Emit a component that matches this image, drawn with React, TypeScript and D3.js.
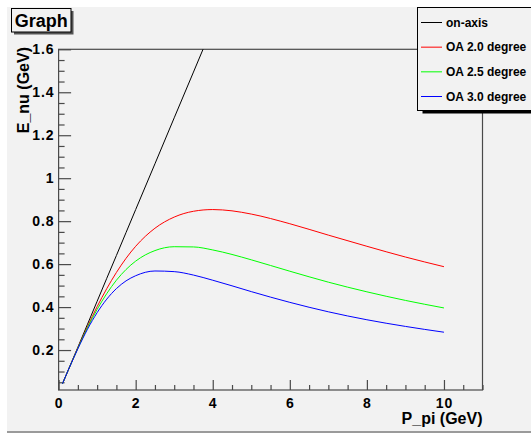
import React, { useEffect, useRef } from 'react';
import * as d3 from 'd3';

// values
const pPi = [0.1, 0.25, 0.5, 0.75, 1, 1.25, 1.5, 1.75, 2, 2.5, 3, 3.5, 4, 4.5, 5, 6, 7, 8, 9, 10];
const onAxis = [0.043, 0.107, 0.213, 0.320, 0.427, 0.534, 0.640, 0.747, 0.854, 1.067, 1.281, 1.494, 1.708, 1.921, 2.135, 2.561, 2.988, 3.415, 3.842, 4.269];
const oa20 = [0.043, 0.106, 0.210, 0.309, 0.402, 0.486, 0.561, 0.627, 0.683, 0.767, 0.819, 0.846, 0.854, 0.848, 0.833, 0.788, 0.735, 0.683, 0.633, 0.588];
const oa25 = [0.043, 0.106, 0.208, 0.304, 0.389, 0.463, 0.525, 0.575, 0.614, 0.663, 0.681, 0.680, 0.666, 0.645, 0.620, 0.567, 0.516, 0.471, 0.431, 0.396];
const oa30 = [0.043, 0.106, 0.206, 0.297, 0.374, 0.437, 0.486, 0.522, 0.546, 0.568, 0.565, 0.549, 0.525, 0.499, 0.472, 0.422, 0.378, 0.341, 0.310, 0.283];

const seriesNames = ['on-axis', 'OA 2.0 degree', 'OA 2.5 degree', 'OA 3.0 degree'];
const seriesColors = ['#000000', '#ff0000', '#00ff00', '#0000ff'];

const xTicks = [0, 2, 4, 6, 8, 10];
const yTicks = [0.2, 0.4, 0.6, 0.8, 1, 1.2, 1.4, 1.6];

const W = 531;
const H = 435;
const frame = { left: 58.6, right: 482.5, top: 49.3, bottom: 390 };
const font = '"Liberation Sans", Arial, Helvetica, sans-serif';
const bg = '#f2f2f2';
const axisColor = '#4a4a4a';

const draw = (svgEl: SVGSVGElement) => {
	const svg = d3.select(svgEl);
	svg.selectAll('*').remove();

	const x = d3.scaleLinear().domain([0, 11]).range([frame.left, frame.right]);
	const y = d3.scaleLinear().domain([0.014, 1.6]).range([frame.bottom, frame.top]);

	// page + canvas
	svg.append('rect').attr('width', W).attr('height', H).attr('fill', '#ffffff');
	svg.append('rect').attr('x', 7).attr('y', 7).attr('width', W).attr('height', 424).attr('fill', bg);
	svg.append('line').attr('x1', 7).attr('x2', W).attr('y1', 432).attr('y2', 432)
		.attr('stroke', '#9a9a9a').attr('stroke-width', 2);

	// clip for the curves
	svg.append('clipPath').attr('id', 'frameClip')
		.append('rect')
		.attr('x', frame.left).attr('y', frame.top)
		.attr('width', frame.right - frame.left).attr('height', frame.bottom - frame.top);

	const g = svg.append('g');

	// minor / major ticks, pointing into the frame
	const minorX = d3.range(0, 11.01, 0.5).filter((v) => v % 2 !== 0);
	const minorY = d3.range(0.05, 1.6, 0.05).filter((v) => Math.abs(v * 5 - Math.round(v * 5)) > 1e-6);

	const styleAxis = (sel: d3.Selection<SVGGElement, unknown, null, undefined>) => {
		sel.select('.domain').remove();
		sel.selectAll('line').attr('stroke', axisColor).attr('stroke-width', 1.2);
		sel.selectAll('text')
			.attr('font-family', font)
			.attr('font-weight', 'bold')
			.attr('font-size', 14)
			.attr('letter-spacing', 1)
			.attr('fill', '#000');
	};

	g.append('g').attr('transform', `translate(0,${ frame.bottom })`)
		.call(d3.axisBottom(x).tickValues(minorX).tickSize(-5).tickFormat(() => ''))
		.call(styleAxis);
	g.append('g').attr('transform', `translate(0,${ frame.bottom })`)
		.call(d3.axisBottom(x).tickValues(xTicks).tickSize(-10).tickPadding(8)
			.tickFormat((d) => String(d)))
		.call(styleAxis)
		.call((s) => s.selectAll('text').attr('dy', '0').attr('y', 18));

	g.append('g').attr('transform', `translate(${ frame.left },0)`)
		.call(d3.axisLeft(y).tickValues(minorY).tickSize(-6).tickFormat(() => ''))
		.call(styleAxis);
	g.append('g').attr('transform', `translate(${ frame.left },0)`)
		.call(d3.axisLeft(y).tickValues(yTicks).tickSize(-12.5).tickPadding(4)
			.tickFormat((d) => String(d)))
		.call(styleAxis);

	// frame
	g.append('rect')
		.attr('x', frame.left).attr('y', frame.top)
		.attr('width', frame.right - frame.left).attr('height', frame.bottom - frame.top)
		.attr('fill', 'none').attr('stroke', axisColor).attr('stroke-width', 1.2);

	// curves
	const series = [onAxis, oa20, oa25, oa30];
	const line = d3.line<number>()
		.x((_, i) => x(pPi[i]))
		.y((d) => y(d))
		.curve(d3.curveMonotoneX);
	const curves = g.append('g').attr('clip-path', 'url(#frameClip)');
	series.forEach((vals, i) => {
		curves.append('path')
			.attr('d', line(vals))
			.attr('fill', 'none')
			.attr('stroke', seriesColors[i])
			.attr('stroke-width', 1);
	});

	// axis titles
	svg.append('text')
		.attr('x', frame.right).attr('y', 424)
		.attr('text-anchor', 'end')
		.attr('font-family', font).attr('font-weight', 'bold').attr('font-size', 16)
		.text('P_pi (GeV)');
	svg.append('text')
		.attr('transform', `translate(29,47) rotate(-90)`)
		.attr('text-anchor', 'end')
		.attr('font-family', font).attr('font-weight', 'bold').attr('font-size', 16)
		.text('E_nu (GeV)');

	// title box
	svg.append('rect').attr('x', 14).attr('y', 11).attr('width', 59.5).attr('height', 23.5).attr('fill', '#555');
	svg.append('rect').attr('x', 11.5).attr('y', 8.5).attr('width', 59.5).attr('height', 23.5)
		.attr('fill', bg).attr('stroke', '#000').attr('stroke-width', 1);
	svg.append('text').attr('x', 41.2).attr('y', 27)
		.attr('text-anchor', 'middle')
		.attr('font-family', font).attr('font-weight', 'bold').attr('font-size', 18)
		.text('Graph');

	// legend
	const legend = svg.append('g');
	legend.append('rect').attr('x', 422.5).attr('y', 12).attr('width', 120).attr('height', 101.5).attr('fill', '#000');
	legend.append('rect').attr('x', 417.5).attr('y', 7.5).attr('width', 120).attr('height', 103)
		.attr('fill', bg).attr('stroke', '#000').attr('stroke-width', 1);
	const rowY = d3.scaleLinear().domain([0, seriesNames.length - 1]).range([22.5, 96.5]);
	seriesNames.forEach((name, i) => {
		legend.append('line')
			.attr('x1', 421).attr('x2', 442)
			.attr('y1', rowY(i)).attr('y2', rowY(i))
			.attr('stroke', seriesColors[i]).attr('stroke-width', 1);
		legend.append('text')
			.attr('x', 446).attr('y', rowY(i)).attr('dy', '0.36em')
			.attr('font-family', font).attr('font-weight', 'bold').attr('font-size', 12)
			.text(name);
	});
};

const App = () => {
	const ref = useRef<SVGSVGElement>(null);

	useEffect(() => {
		if (ref.current) draw(ref.current);
	}, []);

	return (
		<svg ref={ ref } width={ W } height={ H }
			style={ { position: 'absolute', left: 0, top: 0, display: 'block' } }/>
	);
};

export default App;
